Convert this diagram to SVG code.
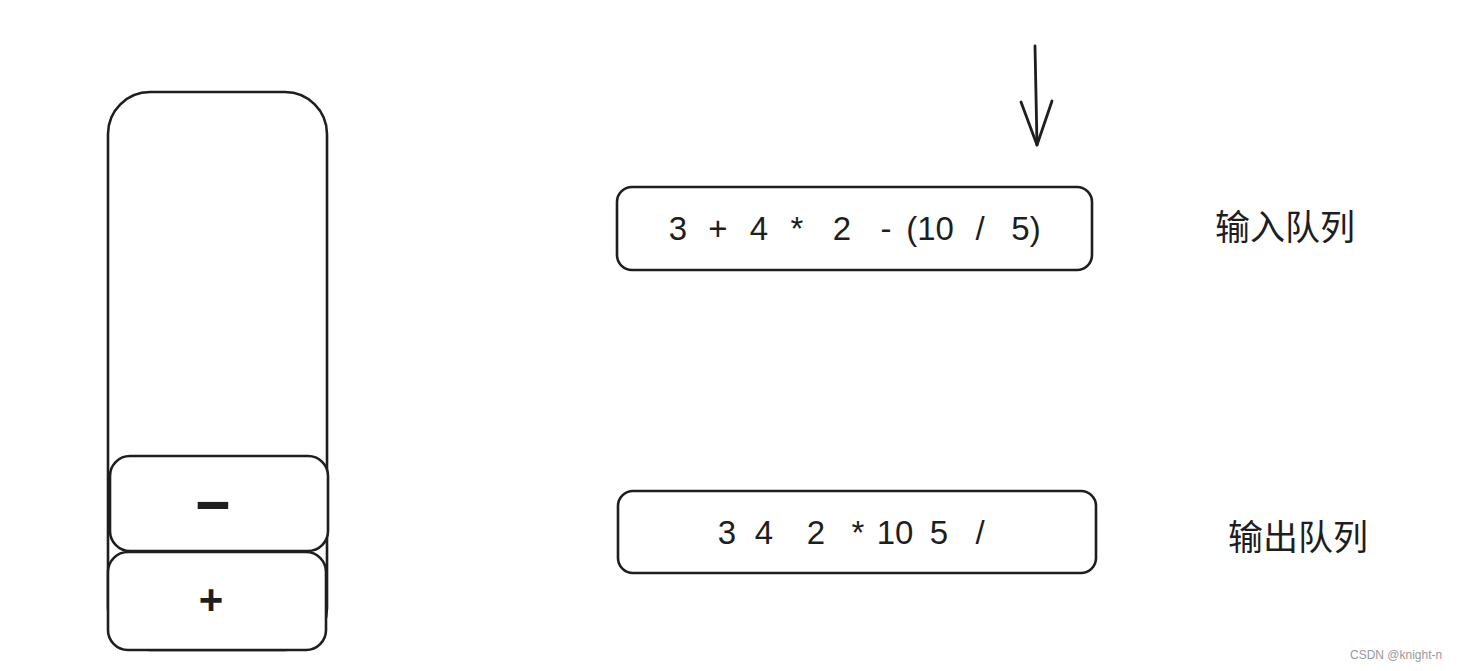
<svg xmlns="http://www.w3.org/2000/svg" width="1464" height="671" viewBox="0 0 1464 671">
<style>
.box{fill:#ffffff;stroke:#1e1e1e;stroke-width:2.6}
.expr{font-family:"Liberation Sans","DejaVu Sans",sans-serif;font-size:33px;fill:#1e1e1e;text-anchor:middle}
.sym{font-family:"Liberation Sans","DejaVu Sans",sans-serif;font-weight:bold;fill:#1e1e1e}
.cjk{font-family:"Noto Sans CJK SC","Noto Sans",sans-serif;font-size:35px;fill:#1e1e1e}
.wm{font-family:"Liberation Sans","DejaVu Sans",sans-serif;font-size:12px;fill:#9a9a9a}
.conn{fill:none;stroke:#1e1e1e;stroke-width:2.8;stroke-linecap:round;stroke-linejoin:round}
</style>
<rect width="1464" height="671" fill="#ffffff"/>
<g id="stack">
<rect class="box" x="108" y="92" width="219" height="558" rx="42" ry="42"/>
</g>
<g id="stack-minus">
<rect class="box" x="110" y="456" width="218" height="95" rx="20" ry="20"/>
<text class="sym" x="213" y="521" font-size="60" text-anchor="middle" textLength="40" lengthAdjust="spacingAndGlyphs">-</text>
</g>
<g id="stack-plus">
<rect class="box" x="108" y="552" width="218" height="98" rx="20" ry="20"/>
<text class="sym" x="211" y="614" font-size="42" text-anchor="middle">+</text>
</g>
<g id="input-queue">
<rect class="box" x="617" y="187" width="475" height="83" rx="15" ry="15"/>
<text class="expr" y="240"><tspan x="678">3</tspan><tspan x="718">+</tspan><tspan x="759">4</tspan><tspan x="797">*</tspan><tspan x="842">2</tspan><tspan x="886">-</tspan><tspan x="930">(10</tspan><tspan x="980">/</tspan><tspan x="1026">5)</tspan></text>
</g>
<g id="output-queue">
<rect class="box" x="618" y="491" width="478" height="82" rx="15" ry="15"/>
<text class="expr" y="544"><tspan x="727">3</tspan><tspan x="764">4</tspan><tspan x="816">2</tspan><tspan x="858">*</tspan><tspan x="895">10</tspan><tspan x="939">5</tspan><tspan x="980">/</tspan></text>
</g>
<g id="input-label">
<text class="cjk" x="1215" y="240">输入队列</text>
</g>
<g id="output-label">
<text class="cjk" x="1228" y="550">输出队列</text>
</g>
<g id="connectors">
<path class="conn" d="M1035 46 L1037 145"/>
<path class="conn" d="M1021 102 L1037 145 L1052 101"/>
</g>
<text class="wm" x="1350" y="659">CSDN @knight-n</text>
</svg>
